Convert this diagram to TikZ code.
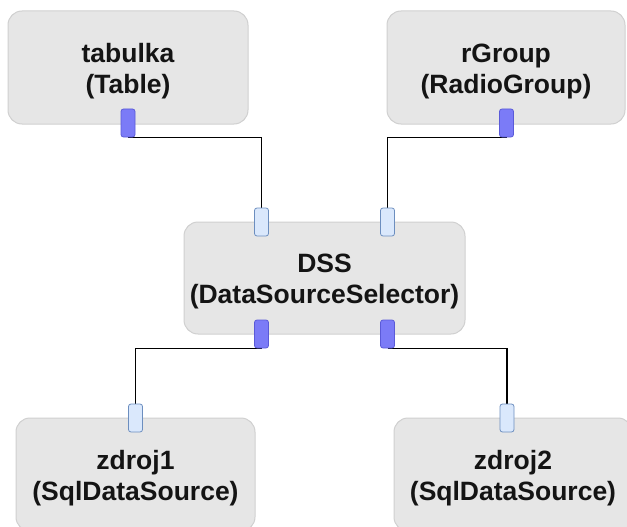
\documentclass[tikz,border=0pt]{standalone}
\usepackage{fontspec}
\setmainfont{Liberation Sans}
\usetikzlibrary{backgrounds}
\definecolor{boxfill}{HTML}{E6E6E6}
\definecolor{boxline}{HTML}{D0D0D0}
\definecolor{outfill}{HTML}{7B7BF7}
\definecolor{outline}{HTML}{5A5AD8}
\definecolor{infill}{HTML}{DAE8FC}
\definecolor{inline}{HTML}{6C8EBF}
\definecolor{labeltext}{HTML}{141414}
\begin{document}
\begin{tikzpicture}[x=1pt,y=-1pt,
  comp/.style={draw=boxline, fill=boxfill, rounded corners=14pt, line width=1pt,
    minimum height=113pt, inner sep=0pt},
  caption/.style={align=center, inner sep=0pt, text=labeltext, yshift=-3.5pt,
    font=\fontsize{26.5}{31}\selectfont\bfseries},
  outport/.style={draw=outline, fill=outfill, rounded corners=2.5pt,
    minimum width=14pt, minimum height=28pt, inner sep=0pt, line width=0.8pt},
  inport/.style={draw=inline, fill=infill, rounded corners=2.5pt,
    minimum width=14pt, minimum height=28pt, inner sep=0pt, line width=0.8pt},
  wire/.style={draw=black, line width=1.2pt}
]
\useasboundingbox (0,0) rectangle (627,527);
\clip (0,0) rectangle (627,527);

% components
\node[comp, minimum width=240pt, label={[caption]center:{tabulka\\(Table)}}] (tab) at (128,67.5) {};
\node[comp, minimum width=238pt, label={[caption]center:{rGroup\\(RadioGroup)}}] (rg) at (506,67.5) {};
\node[comp, minimum width=281pt, minimum height=112pt,
      label={[caption]center:{DSS\\(DataSourceSelector)}}] (dss) at (324.5,278) {};
\node[comp, minimum width=239pt, label={[caption]center:{zdroj1\\(SqlDataSource)}}] (z1) at (135.5,474.5) {};
\node[comp, minimum width=238pt, label={[caption]center:{zdroj2\\(SqlDataSource)}}] (z2) at (513,474.5) {};

% ports
\node[outport] (tabout)  at (128,123) {};
\node[outport] (rgout)   at (506.5,123) {};
\node[inport]  (dssin1)  at (261.5,222) {};
\node[inport]  (dssin2)  at (387.5,222) {};
\node[outport] (dssout1) at (261.5,334) {};
\node[outport] (dssout2) at (387.5,334) {};
\node[inport]  (z1in)    at (135.5,418) {};
\node[inport]  (z2in)    at (507,418) {};

% connectors, behind the ports
\begin{scope}[on background layer]
\draw[wire] (tabout.south) -| (dssin1.north);
\draw[wire] (rgout.south) -| (dssin2.north);
\draw[wire] (dssout1.south) -| (z1in.north);
\draw[wire] (dssout2.south) -| (z2in.north);
\end{scope}
\end{tikzpicture}
\end{document}
